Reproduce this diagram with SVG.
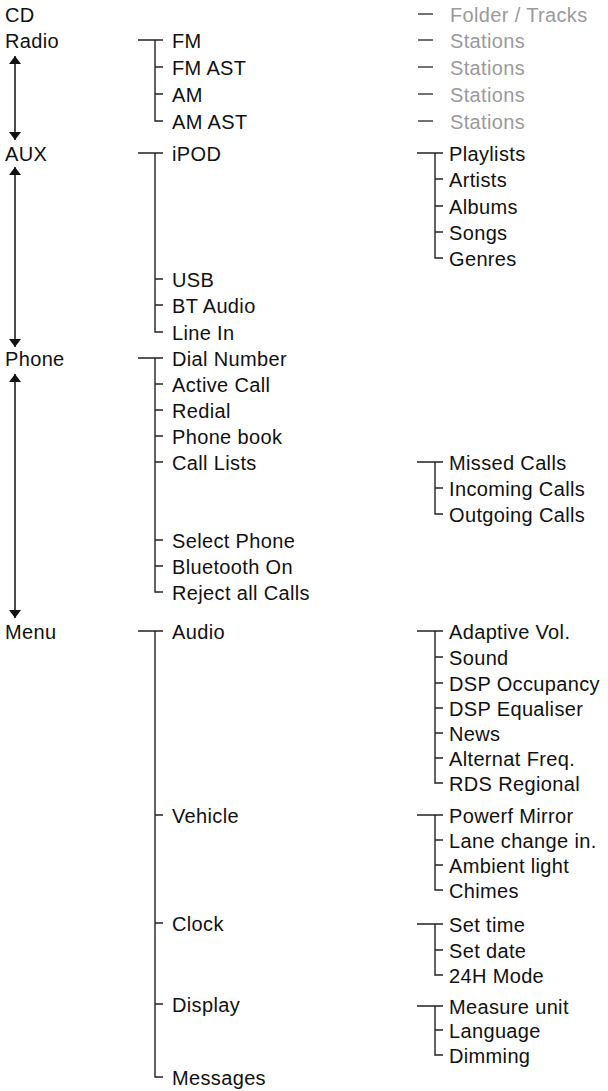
<svg xmlns="http://www.w3.org/2000/svg" width="608" height="1091" viewBox="0 0 608 1091">
<defs>
<style>
text{font-family:"Liberation Sans",Arial,sans-serif;font-size:20px;letter-spacing:0.35px;fill:#111}
text.g{fill:#9a9a9a}
.c{fill:none;stroke:#222;stroke-width:1.4}
.d{fill:none;stroke:#444;stroke-width:1.4}
.a{fill:none;stroke:#111;stroke-width:1.5}
</style>
<marker id="ah" viewBox="0 0 8 12" refX="8" refY="6" markerWidth="8" markerHeight="12" markerUnits="userSpaceOnUse" orient="auto-start-reverse">
<path d="M0,0 L8,6 L0,12 z" fill="#111"/>
</marker>
</defs>
<rect width="608" height="1091" fill="#fff"/>
<g id="connectors">
<line class="a" x1="15" y1="56" x2="15" y2="140" marker-start="url(#ah)" marker-end="url(#ah)"/>
<line class="a" x1="15" y1="167" x2="15" y2="347" marker-start="url(#ah)" marker-end="url(#ah)"/>
<line class="a" x1="15" y1="374" x2="15" y2="618" marker-start="url(#ah)" marker-end="url(#ah)"/>
<path class="d" d="M418,14H433M418,40H433M418,67H433M418,94H433M418,121H433"/>
<path class="c" d="M138,40H163M155,40V121H163M155,67H163M155,94H163"/>
<path class="c" d="M138,153H163M155,153V332H163M155,279H163M155,305H163"/>
<path class="c" d="M417,153H443M435,153V258H443M435,179H443M435,206H443M435,232H443"/>
<path class="c" d="M138,358H163M155,358V592H163M155,384H163M155,410H163M155,436H163M155,462H163M155,540H163M155,566H163"/>
<path class="c" d="M417,462H443M435,462V514H443M435,488H443"/>
<path class="c" d="M138,631H163M155,631V1077H163M155,815H163M155,923H163M155,1004H163"/>
<path class="c" d="M417,631H443M435,631V783H443M435,657H443M435,683H443M435,708H443M435,733H443M435,758H443"/>
<path class="c" d="M417,815H443M435,815V890H443M435,840H443M435,865H443"/>
<path class="c" d="M417,924H443M435,924V975H443M435,950H443"/>
<path class="c" d="M417,1006H443M435,1006V1055H443M435,1030H443"/>
</g>
<g id="n-cd"><text x="5" y="22">CD</text></g>
<g id="n-radio"><text x="5" y="48">Radio</text></g>
<g id="n-aux"><text x="5" y="161">AUX</text></g>
<g id="n-phone"><text x="5" y="366">Phone</text></g>
<g id="n-menu"><text x="5" y="639">Menu</text></g>
<g id="n-cd-folder"><text class="g" x="450" y="22">Folder / Tracks</text></g>
<g id="n-st1"><text class="g" x="450" y="48">Stations</text></g>
<g id="n-st2"><text class="g" x="450" y="75">Stations</text></g>
<g id="n-st3"><text class="g" x="450" y="102">Stations</text></g>
<g id="n-st4"><text class="g" x="450" y="129">Stations</text></g>
<g id="n-fm"><text x="172" y="48">FM</text></g>
<g id="n-fmast"><text x="172" y="75">FM AST</text></g>
<g id="n-am"><text x="172" y="102">AM</text></g>
<g id="n-amast"><text x="172" y="129">AM AST</text></g>
<g id="n-ipod"><text x="172" y="161">iPOD</text></g>
<g id="n-usb"><text x="172" y="287">USB</text></g>
<g id="n-bt"><text x="172" y="313">BT Audio</text></g>
<g id="n-linein"><text x="172" y="340">Line In</text></g>
<g id="n-playlists"><text x="449" y="161">Playlists</text></g>
<g id="n-artists"><text x="449" y="187">Artists</text></g>
<g id="n-albums"><text x="449" y="214">Albums</text></g>
<g id="n-songs"><text x="449" y="240">Songs</text></g>
<g id="n-genres"><text x="449" y="266">Genres</text></g>
<g id="n-dial"><text x="172" y="366">Dial Number</text></g>
<g id="n-active"><text x="172" y="392">Active Call</text></g>
<g id="n-redial"><text x="172" y="418">Redial</text></g>
<g id="n-phonebook"><text x="172" y="444">Phone book</text></g>
<g id="n-calllists"><text x="172" y="470">Call Lists</text></g>
<g id="n-selectphone"><text x="172" y="548">Select Phone</text></g>
<g id="n-bton"><text x="172" y="574">Bluetooth On</text></g>
<g id="n-reject"><text x="172" y="600">Reject all Calls</text></g>
<g id="n-missed"><text x="449" y="470">Missed Calls</text></g>
<g id="n-incoming"><text x="449" y="496">Incoming Calls</text></g>
<g id="n-outgoing"><text x="449" y="522">Outgoing Calls</text></g>
<g id="n-audio"><text x="172" y="639">Audio</text></g>
<g id="n-vehicle"><text x="172" y="823">Vehicle</text></g>
<g id="n-clock"><text x="172" y="931">Clock</text></g>
<g id="n-display"><text x="172" y="1012">Display</text></g>
<g id="n-messages"><text x="172" y="1085">Messages</text></g>
<g id="n-adaptive"><text x="449" y="639">Adaptive Vol.</text></g>
<g id="n-sound"><text x="449" y="665">Sound</text></g>
<g id="n-dspocc"><text x="449" y="691">DSP Occupancy</text></g>
<g id="n-dspeq"><text x="449" y="716">DSP Equaliser</text></g>
<g id="n-news"><text x="449" y="741">News</text></g>
<g id="n-altfreq"><text x="449" y="766">Alternat Freq.</text></g>
<g id="n-rds"><text x="449" y="791">RDS Regional</text></g>
<g id="n-powerf"><text x="449" y="823">Powerf Mirror</text></g>
<g id="n-lane"><text x="449" y="848">Lane change in.</text></g>
<g id="n-ambient"><text x="449" y="873">Ambient light</text></g>
<g id="n-chimes"><text x="449" y="898">Chimes</text></g>
<g id="n-settime"><text x="449" y="932">Set time</text></g>
<g id="n-setdate"><text x="449" y="958">Set date</text></g>
<g id="n-24h"><text x="449" y="983">24H Mode</text></g>
<g id="n-measure"><text x="449" y="1014">Measure unit</text></g>
<g id="n-language"><text x="449" y="1038">Language</text></g>
<g id="n-dimming"><text x="449" y="1063">Dimming</text></g>
</svg>
